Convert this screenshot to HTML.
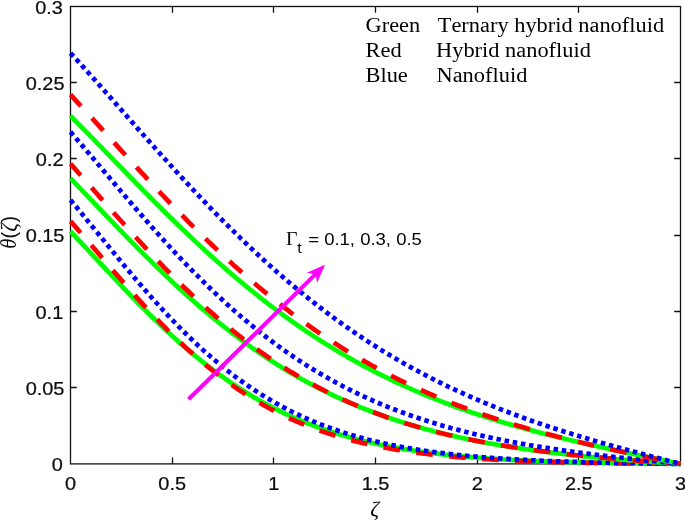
<!DOCTYPE html>
<html><head><meta charset="utf-8"><title>Temperature profile</title><style>html,body{margin:0;padding:0;background:#fff;}svg{display:block;}</style></head><body>
<svg width="685" height="520" viewBox="0 0 685 520">
<rect x="0" y="0" width="685" height="520" fill="#fff"/>
<rect x="70.50" y="6.50" width="610.00" height="457.40" fill="none" stroke="#111" stroke-width="1.3"/>
<path d="M172.50,463.90 v-6.30 M172.50,6.50 v6.30 M273.50,463.90 v-6.30 M273.50,6.50 v6.30 M375.50,463.90 v-6.30 M375.50,6.50 v6.30 M477.50,463.90 v-6.30 M477.50,6.50 v6.30 M578.50,463.90 v-6.30 M578.50,6.50 v6.30 M70.50,387.50 h6.30 M680.50,387.50 h-6.30 M70.50,311.50 h6.30 M680.50,311.50 h-6.30 M70.50,235.50 h6.30 M680.50,235.50 h-6.30 M70.50,158.50 h6.30 M680.50,158.50 h-6.30 M70.50,82.50 h6.30 M680.50,82.50 h-6.30" stroke="#111" stroke-width="1.3" fill="none"/>
<defs><clipPath id="axclip"><rect x="68.50" y="0" width="614.00" height="520"/></clipPath></defs>
<g clip-path="url(#axclip)"><path d="M70.50,231.39 L72.53,233.54 L74.57,235.70 L76.60,237.86 L78.63,240.03 L80.67,242.20 L82.70,244.37 L84.73,246.55 L86.77,248.74 L88.80,250.92 L90.83,253.11 L92.87,255.29 L94.90,257.48 L96.93,259.67 L98.97,261.85 L101.00,264.04 L103.03,266.22 L105.07,268.40 L107.10,270.58 L109.13,272.75 L111.17,274.92 L113.20,277.08 L115.23,279.24 L117.27,281.40 L119.30,283.54 L121.33,285.68 L123.37,287.82 L125.40,289.94 L127.43,292.06 L129.47,294.17 L131.50,296.28 L133.53,298.37 L135.57,300.45 L137.60,302.52 L139.63,304.59 L141.67,306.64 L143.70,308.68 L145.73,310.71 L147.77,312.73 L149.80,314.74 L151.83,316.73 L153.87,318.71 L155.90,320.68 L157.93,322.64 L159.97,324.58 L162.00,326.51 L164.03,328.42 L166.07,330.32 L168.10,332.21 L170.13,334.08 L172.17,335.94 L174.20,337.78 L176.23,339.61 L178.27,341.42 L180.30,343.22 L182.33,345.00 L184.37,346.77 L186.40,348.52 L188.43,350.25 L190.47,351.97 L192.50,353.67 L194.53,355.36 L196.57,357.02 L198.60,358.68 L200.63,360.31 L202.67,361.93 L204.70,363.53 L206.73,365.12 L208.77,366.69 L210.80,368.24 L212.83,369.78 L214.87,371.30 L216.90,372.80 L218.93,374.28 L220.97,375.75 L223.00,377.20 L225.03,378.63 L227.07,380.05 L229.10,381.45 L231.13,382.84 L233.17,384.20 L235.20,385.55 L237.23,386.88 L239.27,388.20 L241.30,389.50 L243.33,390.78 L245.37,392.05 L247.40,393.30 L249.43,394.53 L251.47,395.75 L253.50,396.95 L255.53,398.14 L257.57,399.31 L259.60,400.46 L261.63,401.60 L263.67,402.72 L265.70,403.82 L267.73,404.91 L269.77,405.99 L271.80,407.05 L273.83,408.09 L275.87,409.12 L277.90,410.13 L279.93,411.13 L281.97,412.11 L284.00,413.08 L286.03,414.04 L288.07,414.98 L290.10,415.90 L292.13,416.81 L294.17,417.71 L296.20,418.59 L298.23,419.46 L300.27,420.32 L302.30,421.16 L304.33,421.99 L306.37,422.80 L308.40,423.61 L310.43,424.40 L312.47,425.17 L314.50,425.94 L316.53,426.69 L318.57,427.43 L320.60,428.15 L322.63,428.87 L324.67,429.57 L326.70,430.26 L328.73,430.94 L330.77,431.60 L332.80,432.26 L334.83,432.90 L336.87,433.54 L338.90,434.16 L340.93,434.77 L342.97,435.37 L345.00,435.96 L347.03,436.54 L349.07,437.11 L351.10,437.67 L353.13,438.22 L355.17,438.76 L357.20,439.29 L359.23,439.81 L361.27,440.32 L363.30,440.82 L365.33,441.31 L367.37,441.79 L369.40,442.26 L371.43,442.73 L373.47,443.19 L375.50,443.63 L377.53,444.07 L379.57,444.50 L381.60,444.93 L383.63,445.34 L385.67,445.75 L387.70,446.15 L389.73,446.54 L391.77,446.92 L393.80,447.30 L395.83,447.67 L397.87,448.03 L399.90,448.38 L401.93,448.73 L403.97,449.07 L406.00,449.40 L408.03,449.73 L410.07,450.05 L412.10,450.37 L414.13,450.68 L416.17,450.98 L418.20,451.27 L420.23,451.56 L422.27,451.85 L424.30,452.13 L426.33,452.40 L428.37,452.67 L430.40,452.93 L432.43,453.19 L434.47,453.44 L436.50,453.68 L438.53,453.92 L440.57,454.16 L442.60,454.39 L444.63,454.62 L446.67,454.84 L448.70,455.05 L450.73,455.27 L452.77,455.47 L454.80,455.68 L456.83,455.88 L458.87,456.07 L460.90,456.26 L462.93,456.45 L464.97,456.63 L467.00,456.81 L469.03,456.99 L471.07,457.16 L473.10,457.33 L475.13,457.49 L477.17,457.65 L479.20,457.81 L481.23,457.96 L483.27,458.11 L485.30,458.26 L487.33,458.40 L489.37,458.54 L491.40,458.68 L493.43,458.81 L495.47,458.95 L497.50,459.07 L499.53,459.20 L501.57,459.32 L503.60,459.44 L505.63,459.56 L507.67,459.68 L509.70,459.79 L511.73,459.90 L513.77,460.01 L515.80,460.11 L517.83,460.21 L519.87,460.31 L521.90,460.41 L523.93,460.51 L525.97,460.60 L528.00,460.69 L530.03,460.78 L532.07,460.87 L534.10,460.96 L536.13,461.04 L538.17,461.12 L540.20,461.20 L542.23,461.28 L544.27,461.36 L546.30,461.43 L548.33,461.50 L550.37,461.57 L552.40,461.64 L554.43,461.71 L556.47,461.78 L558.50,461.84 L560.53,461.91 L562.57,461.97 L564.60,462.03 L566.63,462.09 L568.67,462.15 L570.70,462.20 L572.73,462.26 L574.77,462.31 L576.80,462.36 L578.83,462.41 L580.87,462.46 L582.90,462.51 L584.93,462.56 L586.97,462.61 L589.00,462.65 L591.03,462.70 L593.07,462.74 L595.10,462.78 L597.13,462.83 L599.17,462.87 L601.20,462.91 L603.23,462.94 L605.27,462.98 L607.30,463.02 L609.33,463.05 L611.37,463.09 L613.40,463.12 L615.43,463.16 L617.47,463.19 L619.50,463.22 L621.53,463.25 L623.57,463.28 L625.60,463.31 L627.63,463.34 L629.67,463.37 L631.70,463.40 L633.73,463.43 L635.77,463.45 L637.80,463.48 L639.83,463.50 L641.87,463.53 L643.90,463.55 L645.93,463.57 L647.97,463.60 L650.00,463.62 L652.03,463.64 L654.07,463.66 L656.10,463.68 L658.13,463.70 L660.17,463.72 L662.20,463.74 L664.23,463.76 L666.27,463.78 L668.30,463.80 L670.33,463.82 L672.37,463.83 L674.40,463.85 L676.43,463.87 L678.47,463.88 L680.50,463.90" fill="none" stroke="#00ff00" stroke-width="4.70" />
<path d="M70.50,221.18 L72.53,223.49 L74.57,225.81 L76.60,228.14 L78.63,230.47 L80.67,232.82 L82.70,235.17 L84.73,237.53 L86.77,239.89 L88.80,242.25 L90.83,244.62 L92.87,246.99 L94.90,249.37 L96.93,251.74 L98.97,254.12 L101.00,256.49 L103.03,258.86 L105.07,261.23 L107.10,263.60 L109.13,265.97 L111.17,268.33 L113.20,270.68 L115.23,273.03 L117.27,275.38 L119.30,277.72 L121.33,280.05 L123.37,282.37 L125.40,284.68 L127.43,286.99 L129.47,289.29 L131.50,291.57 L133.53,293.85 L135.57,296.12 L137.60,298.37 L139.63,300.61 L141.67,302.85 L143.70,305.06 L145.73,307.27 L147.77,309.46 L149.80,311.64 L151.83,313.80 L153.87,315.95 L155.90,318.08 L157.93,320.20 L159.97,322.30 L162.00,324.39 L164.03,326.46 L166.07,328.52 L168.10,330.55 L170.13,332.57 L172.17,334.58 L174.20,336.56 L176.23,338.53 L178.27,340.48 L180.30,342.41 L182.33,344.33 L184.37,346.22 L186.40,348.10 L188.43,349.96 L190.47,351.80 L192.50,353.62 L194.53,355.42 L196.57,357.20 L198.60,358.96 L200.63,360.71 L202.67,362.43 L204.70,364.14 L206.73,365.82 L208.77,367.49 L210.80,369.13 L212.83,370.76 L214.87,372.37 L216.90,373.96 L218.93,375.52 L220.97,377.07 L223.00,378.60 L225.03,380.11 L227.07,381.60 L229.10,383.07 L231.13,384.52 L233.17,385.95 L235.20,387.37 L237.23,388.76 L239.27,390.13 L241.30,391.49 L243.33,392.82 L245.37,394.14 L247.40,395.44 L249.43,396.72 L251.47,397.98 L253.50,399.22 L255.53,400.45 L257.57,401.65 L259.60,402.84 L261.63,404.01 L263.67,405.16 L265.70,406.30 L267.73,407.42 L269.77,408.52 L271.80,409.60 L273.83,410.66 L275.87,411.71 L277.90,412.74 L279.93,413.76 L281.97,414.76 L284.00,415.74 L286.03,416.70 L288.07,417.65 L290.10,418.59 L292.13,419.50 L294.17,420.41 L296.20,421.29 L298.23,422.17 L300.27,423.02 L302.30,423.87 L304.33,424.69 L306.37,425.51 L308.40,426.31 L310.43,427.09 L312.47,427.86 L314.50,428.62 L316.53,429.36 L318.57,430.09 L320.60,430.81 L322.63,431.51 L324.67,432.20 L326.70,432.88 L328.73,433.55 L330.77,434.20 L332.80,434.84 L334.83,435.47 L336.87,436.09 L338.90,436.69 L340.93,437.28 L342.97,437.87 L345.00,438.44 L347.03,439.00 L349.07,439.55 L351.10,440.09 L353.13,440.61 L355.17,441.13 L357.20,441.64 L359.23,442.14 L361.27,442.63 L363.30,443.10 L365.33,443.57 L367.37,444.03 L369.40,444.48 L371.43,444.92 L373.47,445.35 L375.50,445.78 L377.53,446.19 L379.57,446.60 L381.60,446.99 L383.63,447.38 L385.67,447.77 L387.70,448.14 L389.73,448.51 L391.77,448.86 L393.80,449.21 L395.83,449.56 L397.87,449.89 L399.90,450.22 L401.93,450.54 L403.97,450.86 L406.00,451.17 L408.03,451.47 L410.07,451.77 L412.10,452.05 L414.13,452.34 L416.17,452.61 L418.20,452.88 L420.23,453.15 L422.27,453.41 L424.30,453.66 L426.33,453.91 L428.37,454.15 L430.40,454.39 L432.43,454.62 L434.47,454.85 L436.50,455.07 L438.53,455.29 L440.57,455.50 L442.60,455.71 L444.63,455.91 L446.67,456.11 L448.70,456.30 L450.73,456.49 L452.77,456.68 L454.80,456.86 L456.83,457.04 L458.87,457.21 L460.90,457.38 L462.93,457.54 L464.97,457.70 L467.00,457.86 L469.03,458.02 L471.07,458.17 L473.10,458.31 L475.13,458.46 L477.17,458.60 L479.20,458.74 L481.23,458.87 L483.27,459.00 L485.30,459.13 L487.33,459.25 L489.37,459.38 L491.40,459.50 L493.43,459.61 L495.47,459.73 L497.50,459.84 L499.53,459.95 L501.57,460.05 L503.60,460.15 L505.63,460.26 L507.67,460.35 L509.70,460.45 L511.73,460.55 L513.77,460.64 L515.80,460.73 L517.83,460.82 L519.87,460.90 L521.90,460.98 L523.93,461.07 L525.97,461.15 L528.00,461.22 L530.03,461.30 L532.07,461.37 L534.10,461.45 L536.13,461.52 L538.17,461.59 L540.20,461.65 L542.23,461.72 L544.27,461.78 L546.30,461.85 L548.33,461.91 L550.37,461.97 L552.40,462.02 L554.43,462.08 L556.47,462.14 L558.50,462.19 L560.53,462.24 L562.57,462.30 L564.60,462.35 L566.63,462.40 L568.67,462.44 L570.70,462.49 L572.73,462.54 L574.77,462.58 L576.80,462.62 L578.83,462.67 L580.87,462.71 L582.90,462.75 L584.93,462.79 L586.97,462.83 L589.00,462.87 L591.03,462.90 L593.07,462.94 L595.10,462.97 L597.13,463.01 L599.17,463.04 L601.20,463.07 L603.23,463.11 L605.27,463.14 L607.30,463.17 L609.33,463.20 L611.37,463.23 L613.40,463.25 L615.43,463.28 L617.47,463.31 L619.50,463.34 L621.53,463.36 L623.57,463.39 L625.60,463.41 L627.63,463.43 L629.67,463.46 L631.70,463.48 L633.73,463.50 L635.77,463.53 L637.80,463.55 L639.83,463.57 L641.87,463.59 L643.90,463.61 L645.93,463.63 L647.97,463.65 L650.00,463.66 L652.03,463.68 L654.07,463.70 L656.10,463.72 L658.13,463.74 L660.17,463.75 L662.20,463.77 L664.23,463.78 L666.27,463.80 L668.30,463.81 L670.33,463.83 L672.37,463.84 L674.40,463.86 L676.43,463.87 L678.47,463.89 L680.50,463.90" fill="none" stroke="#ff0000" stroke-width="4.70" stroke-dasharray="16.7 16.4" stroke-dashoffset="1.3"/>
<path d="M70.50,199.98 L72.53,202.41 L74.57,204.85 L76.60,207.30 L78.63,209.75 L80.67,212.22 L82.70,214.69 L84.73,217.17 L86.77,219.66 L88.80,222.15 L90.83,224.64 L92.87,227.14 L94.90,229.64 L96.93,232.14 L98.97,234.64 L101.00,237.14 L103.03,239.64 L105.07,242.14 L107.10,244.64 L109.13,247.13 L111.17,249.62 L113.20,252.11 L115.23,254.59 L117.27,257.06 L119.30,259.53 L121.33,261.99 L123.37,264.45 L125.40,266.89 L127.43,269.33 L129.47,271.76 L131.50,274.18 L133.53,276.59 L135.57,278.99 L137.60,281.37 L139.63,283.75 L141.67,286.11 L143.70,288.46 L145.73,290.80 L147.77,293.12 L149.80,295.43 L151.83,297.73 L153.87,300.01 L155.90,302.28 L157.93,304.53 L159.97,306.76 L162.00,308.98 L164.03,311.19 L166.07,313.37 L168.10,315.54 L170.13,317.70 L172.17,319.83 L174.20,321.95 L176.23,324.05 L178.27,326.13 L180.30,328.19 L182.33,330.24 L184.37,332.26 L186.40,334.27 L188.43,336.26 L190.47,338.23 L192.50,340.18 L194.53,342.11 L196.57,344.02 L198.60,345.91 L200.63,347.78 L202.67,349.63 L204.70,351.46 L206.73,353.28 L208.77,355.07 L210.80,356.84 L212.83,358.59 L214.87,360.32 L216.90,362.04 L218.93,363.73 L220.97,365.40 L223.00,367.05 L225.03,368.68 L227.07,370.29 L229.10,371.89 L231.13,373.46 L233.17,375.01 L235.20,376.54 L237.23,378.05 L239.27,379.55 L241.30,381.02 L243.33,382.47 L245.37,383.90 L247.40,385.32 L249.43,386.71 L251.47,388.09 L253.50,389.45 L255.53,390.78 L257.57,392.10 L259.60,393.40 L261.63,394.68 L263.67,395.94 L265.70,397.19 L267.73,398.41 L269.77,399.62 L271.80,400.81 L273.83,401.98 L275.87,403.14 L277.90,404.27 L279.93,405.39 L281.97,406.50 L284.00,407.58 L286.03,408.65 L288.07,409.70 L290.10,410.73 L292.13,411.75 L294.17,412.75 L296.20,413.74 L298.23,414.71 L300.27,415.66 L302.30,416.60 L304.33,417.52 L306.37,418.43 L308.40,419.32 L310.43,420.20 L312.47,421.06 L314.50,421.91 L316.53,422.74 L318.57,423.56 L320.60,424.37 L322.63,425.16 L324.67,425.93 L326.70,426.70 L328.73,427.45 L330.77,428.19 L332.80,428.91 L334.83,429.62 L336.87,430.32 L338.90,431.01 L340.93,431.68 L342.97,432.34 L345.00,432.99 L347.03,433.63 L349.07,434.26 L351.10,434.87 L353.13,435.48 L355.17,436.07 L357.20,436.65 L359.23,437.22 L361.27,437.78 L363.30,438.33 L365.33,438.87 L367.37,439.40 L369.40,439.92 L371.43,440.43 L373.47,440.93 L375.50,441.42 L377.53,441.90 L379.57,442.37 L381.60,442.83 L383.63,443.28 L385.67,443.73 L387.70,444.17 L389.73,444.59 L391.77,445.01 L393.80,445.42 L395.83,445.83 L397.87,446.22 L399.90,446.61 L401.93,446.99 L403.97,447.36 L406.00,447.72 L408.03,448.08 L410.07,448.43 L412.10,448.77 L414.13,449.11 L416.17,449.44 L418.20,449.76 L420.23,450.08 L422.27,450.39 L424.30,450.69 L426.33,450.99 L428.37,451.28 L430.40,451.56 L432.43,451.84 L434.47,452.12 L436.50,452.38 L438.53,452.65 L440.57,452.90 L442.60,453.16 L444.63,453.40 L446.67,453.64 L448.70,453.88 L450.73,454.11 L452.77,454.34 L454.80,454.56 L456.83,454.78 L458.87,454.99 L460.90,455.20 L462.93,455.40 L464.97,455.60 L467.00,455.80 L469.03,455.99 L471.07,456.17 L473.10,456.36 L475.13,456.54 L477.17,456.71 L479.20,456.88 L481.23,457.05 L483.27,457.22 L485.30,457.38 L487.33,457.54 L489.37,457.69 L491.40,457.84 L493.43,457.99 L495.47,458.13 L497.50,458.28 L499.53,458.41 L501.57,458.55 L503.60,458.68 L505.63,458.81 L507.67,458.94 L509.70,459.06 L511.73,459.19 L513.77,459.30 L515.80,459.42 L517.83,459.54 L519.87,459.65 L521.90,459.76 L523.93,459.86 L525.97,459.97 L528.00,460.07 L530.03,460.17 L532.07,460.27 L534.10,460.36 L536.13,460.46 L538.17,460.55 L540.20,460.64 L542.23,460.73 L544.27,460.81 L546.30,460.90 L548.33,460.98 L550.37,461.06 L552.40,461.14 L554.43,461.22 L556.47,461.29 L558.50,461.37 L560.53,461.44 L562.57,461.51 L564.60,461.58 L566.63,461.65 L568.67,461.71 L570.70,461.78 L572.73,461.84 L574.77,461.90 L576.80,461.96 L578.83,462.02 L580.87,462.08 L582.90,462.14 L584.93,462.20 L586.97,462.25 L589.00,462.31 L591.03,462.36 L593.07,462.41 L595.10,462.46 L597.13,462.51 L599.17,462.56 L601.20,462.61 L603.23,462.65 L605.27,462.70 L607.30,462.74 L609.33,462.79 L611.37,462.83 L613.40,462.87 L615.43,462.91 L617.47,462.95 L619.50,462.99 L621.53,463.03 L623.57,463.07 L625.60,463.11 L627.63,463.14 L629.67,463.18 L631.70,463.22 L633.73,463.25 L635.77,463.28 L637.80,463.32 L639.83,463.35 L641.87,463.38 L643.90,463.41 L645.93,463.44 L647.97,463.48 L650.00,463.51 L652.03,463.53 L654.07,463.56 L656.10,463.59 L658.13,463.62 L660.17,463.65 L662.20,463.67 L664.23,463.70 L666.27,463.73 L668.30,463.75 L670.33,463.78 L672.37,463.80 L674.40,463.83 L676.43,463.85 L678.47,463.88 L680.50,463.90" fill="none" stroke="#0000ff" stroke-width="4.70" stroke-dasharray="4.5 3.78"/>
<path d="M70.50,178.33 L72.53,180.44 L74.57,182.55 L76.60,184.67 L78.63,186.79 L80.67,188.92 L82.70,191.04 L84.73,193.17 L86.77,195.30 L88.80,197.43 L90.83,199.56 L92.87,201.70 L94.90,203.83 L96.93,205.96 L98.97,208.09 L101.00,210.22 L103.03,212.35 L105.07,214.48 L107.10,216.60 L109.13,218.72 L111.17,220.84 L113.20,222.96 L115.23,225.07 L117.27,227.18 L119.30,229.29 L121.33,231.39 L123.37,233.48 L125.40,235.57 L127.43,237.66 L129.47,239.74 L131.50,241.81 L133.53,243.88 L135.57,245.95 L137.60,248.00 L139.63,250.05 L141.67,252.09 L143.70,254.13 L145.73,256.15 L147.77,258.17 L149.80,260.18 L151.83,262.19 L153.87,264.18 L155.90,266.17 L157.93,268.15 L159.97,270.12 L162.00,272.08 L164.03,274.03 L166.07,275.97 L168.10,277.90 L170.13,279.82 L172.17,281.73 L174.20,283.63 L176.23,285.52 L178.27,287.40 L180.30,289.27 L182.33,291.13 L184.37,292.98 L186.40,294.82 L188.43,296.64 L190.47,298.46 L192.50,300.26 L194.53,302.05 L196.57,303.84 L198.60,305.60 L200.63,307.36 L202.67,309.11 L204.70,310.84 L206.73,312.56 L208.77,314.27 L210.80,315.97 L212.83,317.66 L214.87,319.33 L216.90,320.99 L218.93,322.64 L220.97,324.28 L223.00,325.90 L225.03,327.51 L227.07,329.11 L229.10,330.70 L231.13,332.27 L233.17,333.83 L235.20,335.38 L237.23,336.92 L239.27,338.44 L241.30,339.95 L243.33,341.45 L245.37,342.93 L247.40,344.41 L249.43,345.87 L251.47,347.31 L253.50,348.75 L255.53,350.17 L257.57,351.58 L259.60,352.98 L261.63,354.36 L263.67,355.73 L265.70,357.09 L267.73,358.44 L269.77,359.77 L271.80,361.09 L273.83,362.40 L275.87,363.69 L277.90,364.98 L279.93,366.25 L281.97,367.51 L284.00,368.75 L286.03,369.99 L288.07,371.21 L290.10,372.42 L292.13,373.62 L294.17,374.80 L296.20,375.98 L298.23,377.14 L300.27,378.29 L302.30,379.43 L304.33,380.55 L306.37,381.67 L308.40,382.77 L310.43,383.86 L312.47,384.94 L314.50,386.01 L316.53,387.07 L318.57,388.11 L320.60,389.15 L322.63,390.17 L324.67,391.18 L326.70,392.18 L328.73,393.17 L330.77,394.15 L332.80,395.12 L334.83,396.07 L336.87,397.02 L338.90,397.96 L340.93,398.88 L342.97,399.80 L345.00,400.70 L347.03,401.59 L349.07,402.48 L351.10,403.35 L353.13,404.21 L355.17,405.07 L357.20,405.91 L359.23,406.74 L361.27,407.57 L363.30,408.38 L365.33,409.19 L367.37,409.98 L369.40,410.77 L371.43,411.54 L373.47,412.31 L375.50,413.07 L377.53,413.82 L379.57,414.56 L381.60,415.29 L383.63,416.01 L385.67,416.72 L387.70,417.43 L389.73,418.12 L391.77,418.81 L393.80,419.49 L395.83,420.16 L397.87,420.82 L399.90,421.47 L401.93,422.12 L403.97,422.76 L406.00,423.39 L408.03,424.01 L410.07,424.62 L412.10,425.23 L414.13,425.83 L416.17,426.42 L418.20,427.00 L420.23,427.58 L422.27,428.15 L424.30,428.71 L426.33,429.27 L428.37,429.81 L430.40,430.35 L432.43,430.89 L434.47,431.42 L436.50,431.94 L438.53,432.45 L440.57,432.96 L442.60,433.46 L444.63,433.95 L446.67,434.44 L448.70,434.92 L450.73,435.40 L452.77,435.86 L454.80,436.33 L456.83,436.78 L458.87,437.24 L460.90,437.68 L462.93,438.12 L464.97,438.55 L467.00,438.98 L469.03,439.40 L471.07,439.82 L473.10,440.23 L475.13,440.64 L477.17,441.04 L479.20,441.44 L481.23,441.83 L483.27,442.21 L485.30,442.59 L487.33,442.97 L489.37,443.34 L491.40,443.70 L493.43,444.06 L495.47,444.42 L497.50,444.77 L499.53,445.12 L501.57,445.46 L503.60,445.80 L505.63,446.13 L507.67,446.46 L509.70,446.79 L511.73,447.11 L513.77,447.43 L515.80,447.74 L517.83,448.05 L519.87,448.35 L521.90,448.65 L523.93,448.95 L525.97,449.24 L528.00,449.53 L530.03,449.82 L532.07,450.10 L534.10,450.38 L536.13,450.65 L538.17,450.92 L540.20,451.19 L542.23,451.46 L544.27,451.72 L546.30,451.97 L548.33,452.23 L550.37,452.48 L552.40,452.73 L554.43,452.97 L556.47,453.22 L558.50,453.45 L560.53,453.69 L562.57,453.92 L564.60,454.15 L566.63,454.38 L568.67,454.61 L570.70,454.83 L572.73,455.05 L574.77,455.27 L576.80,455.48 L578.83,455.69 L580.87,455.90 L582.90,456.11 L584.93,456.31 L586.97,456.51 L589.00,456.71 L591.03,456.91 L593.07,457.11 L595.10,457.30 L597.13,457.49 L599.17,457.68 L601.20,457.87 L603.23,458.05 L605.27,458.23 L607.30,458.41 L609.33,458.59 L611.37,458.77 L613.40,458.94 L615.43,459.12 L617.47,459.29 L619.50,459.46 L621.53,459.63 L623.57,459.79 L625.60,459.96 L627.63,460.12 L629.67,460.28 L631.70,460.44 L633.73,460.60 L635.77,460.76 L637.80,460.91 L639.83,461.07 L641.87,461.22 L643.90,461.37 L645.93,461.52 L647.97,461.67 L650.00,461.82 L652.03,461.96 L654.07,462.11 L656.10,462.25 L658.13,462.39 L660.17,462.54 L662.20,462.68 L664.23,462.82 L666.27,462.95 L668.30,463.09 L670.33,463.23 L672.37,463.36 L674.40,463.50 L676.43,463.63 L678.47,463.77 L680.50,463.90" fill="none" stroke="#00ff00" stroke-width="4.70" />
<path d="M70.50,163.83 L72.53,166.12 L74.57,168.41 L76.60,170.70 L78.63,173.00 L80.67,175.30 L82.70,177.60 L84.73,179.91 L86.77,182.22 L88.80,184.53 L90.83,186.84 L92.87,189.15 L94.90,191.46 L96.93,193.76 L98.97,196.07 L101.00,198.38 L103.03,200.69 L105.07,202.99 L107.10,205.29 L109.13,207.59 L111.17,209.88 L113.20,212.17 L115.23,214.46 L117.27,216.74 L119.30,219.02 L121.33,221.29 L123.37,223.55 L125.40,225.81 L127.43,228.07 L129.47,230.32 L131.50,232.56 L133.53,234.79 L135.57,237.02 L137.60,239.23 L139.63,241.45 L141.67,243.65 L143.70,245.84 L145.73,248.03 L147.77,250.20 L149.80,252.37 L151.83,254.53 L153.87,256.67 L155.90,258.81 L157.93,260.94 L159.97,263.05 L162.00,265.16 L164.03,267.26 L166.07,269.34 L168.10,271.41 L170.13,273.47 L172.17,275.52 L174.20,277.56 L176.23,279.59 L178.27,281.60 L180.30,283.60 L182.33,285.59 L184.37,287.57 L186.40,289.53 L188.43,291.48 L190.47,293.42 L192.50,295.35 L194.53,297.26 L196.57,299.16 L198.60,301.04 L200.63,302.91 L202.67,304.77 L204.70,306.62 L206.73,308.45 L208.77,310.27 L210.80,312.07 L212.83,313.86 L214.87,315.63 L216.90,317.40 L218.93,319.14 L220.97,320.88 L223.00,322.60 L225.03,324.30 L227.07,325.99 L229.10,327.67 L231.13,329.33 L233.17,330.98 L235.20,332.61 L237.23,334.23 L239.27,335.84 L241.30,337.43 L243.33,339.01 L245.37,340.57 L247.40,342.12 L249.43,343.65 L251.47,345.17 L253.50,346.68 L255.53,348.17 L257.57,349.65 L259.60,351.11 L261.63,352.56 L263.67,353.99 L265.70,355.41 L267.73,356.82 L269.77,358.21 L271.80,359.59 L273.83,360.96 L275.87,362.31 L277.90,363.64 L279.93,364.97 L281.97,366.28 L284.00,367.57 L286.03,368.85 L288.07,370.12 L290.10,371.38 L292.13,372.62 L294.17,373.85 L296.20,375.07 L298.23,376.27 L300.27,377.46 L302.30,378.63 L304.33,379.80 L306.37,380.95 L308.40,382.09 L310.43,383.21 L312.47,384.32 L314.50,385.42 L316.53,386.51 L318.57,387.59 L320.60,388.65 L322.63,389.70 L324.67,390.74 L326.70,391.76 L328.73,392.78 L330.77,393.78 L332.80,394.77 L334.83,395.75 L336.87,396.72 L338.90,397.67 L340.93,398.62 L342.97,399.55 L345.00,400.48 L347.03,401.39 L349.07,402.29 L351.10,403.18 L353.13,404.05 L355.17,404.92 L357.20,405.78 L359.23,406.63 L361.27,407.46 L363.30,408.29 L365.33,409.10 L367.37,409.91 L369.40,410.70 L371.43,411.49 L373.47,412.27 L375.50,413.03 L377.53,413.79 L379.57,414.53 L381.60,415.27 L383.63,416.00 L385.67,416.72 L387.70,417.43 L389.73,418.13 L391.77,418.82 L393.80,419.50 L395.83,420.18 L397.87,420.84 L399.90,421.50 L401.93,422.15 L403.97,422.79 L406.00,423.42 L408.03,424.04 L410.07,424.65 L412.10,425.26 L414.13,425.86 L416.17,426.45 L418.20,427.04 L420.23,427.61 L422.27,428.18 L424.30,428.74 L426.33,429.29 L428.37,429.84 L430.40,430.38 L432.43,430.91 L434.47,431.44 L436.50,431.95 L438.53,432.46 L440.57,432.97 L442.60,433.47 L444.63,433.96 L446.67,434.44 L448.70,434.92 L450.73,435.39 L452.77,435.86 L454.80,436.31 L456.83,436.77 L458.87,437.21 L460.90,437.65 L462.93,438.09 L464.97,438.52 L467.00,438.94 L469.03,439.36 L471.07,439.77 L473.10,440.18 L475.13,440.58 L477.17,440.98 L479.20,441.37 L481.23,441.75 L483.27,442.13 L485.30,442.51 L487.33,442.88 L489.37,443.25 L491.40,443.61 L493.43,443.96 L495.47,444.31 L497.50,444.66 L499.53,445.00 L501.57,445.34 L503.60,445.67 L505.63,446.00 L507.67,446.33 L509.70,446.65 L511.73,446.96 L513.77,447.28 L515.80,447.58 L517.83,447.89 L519.87,448.19 L521.90,448.49 L523.93,448.78 L525.97,449.07 L528.00,449.35 L530.03,449.63 L532.07,449.91 L534.10,450.19 L536.13,450.46 L538.17,450.72 L540.20,450.99 L542.23,451.25 L544.27,451.51 L546.30,451.76 L548.33,452.01 L550.37,452.26 L552.40,452.51 L554.43,452.75 L556.47,452.99 L558.50,453.23 L560.53,453.46 L562.57,453.69 L564.60,453.92 L566.63,454.14 L568.67,454.37 L570.70,454.59 L572.73,454.81 L574.77,455.02 L576.80,455.24 L578.83,455.45 L580.87,455.65 L582.90,455.86 L584.93,456.06 L586.97,456.27 L589.00,456.47 L591.03,456.66 L593.07,456.86 L595.10,457.05 L597.13,457.24 L599.17,457.43 L601.20,457.62 L603.23,457.81 L605.27,457.99 L607.30,458.17 L609.33,458.35 L611.37,458.53 L613.40,458.71 L615.43,458.89 L617.47,459.06 L619.50,459.23 L621.53,459.41 L623.57,459.57 L625.60,459.74 L627.63,459.91 L629.67,460.08 L631.70,460.24 L633.73,460.40 L635.77,460.57 L637.80,460.73 L639.83,460.89 L641.87,461.04 L643.90,461.20 L645.93,461.36 L647.97,461.51 L650.00,461.67 L652.03,461.82 L654.07,461.98 L656.10,462.13 L658.13,462.28 L660.17,462.43 L662.20,462.58 L664.23,462.73 L666.27,462.88 L668.30,463.02 L670.33,463.17 L672.37,463.32 L674.40,463.46 L676.43,463.61 L678.47,463.76 L680.50,463.90" fill="none" stroke="#ff0000" stroke-width="4.70" stroke-dasharray="16.7 16.4" stroke-dashoffset="1.3"/>
<path d="M70.50,131.91 L72.53,134.26 L74.57,136.62 L76.60,138.98 L78.63,141.36 L80.67,143.73 L82.70,146.12 L84.73,148.50 L86.77,150.90 L88.80,153.29 L90.83,155.69 L92.87,158.09 L94.90,160.49 L96.93,162.90 L98.97,165.31 L101.00,167.71 L103.03,170.12 L105.07,172.53 L107.10,174.93 L109.13,177.34 L111.17,179.75 L113.20,182.15 L115.23,184.55 L117.27,186.95 L119.30,189.34 L121.33,191.73 L123.37,194.12 L125.40,196.50 L127.43,198.88 L129.47,201.26 L131.50,203.63 L133.53,205.99 L135.57,208.35 L137.60,210.70 L139.63,213.04 L141.67,215.38 L143.70,217.71 L145.73,220.03 L147.77,222.35 L149.80,224.66 L151.83,226.96 L153.87,229.25 L155.90,231.53 L157.93,233.80 L159.97,236.06 L162.00,238.31 L164.03,240.56 L166.07,242.79 L168.10,245.01 L170.13,247.22 L172.17,249.42 L174.20,251.61 L176.23,253.79 L178.27,255.96 L180.30,258.12 L182.33,260.26 L184.37,262.39 L186.40,264.51 L188.43,266.62 L190.47,268.72 L192.50,270.80 L194.53,272.87 L196.57,274.92 L198.60,276.97 L200.63,279.00 L202.67,281.02 L204.70,283.02 L206.73,285.01 L208.77,286.99 L210.80,288.96 L212.83,290.91 L214.87,292.84 L216.90,294.76 L218.93,296.67 L220.97,298.57 L223.00,300.45 L225.03,302.31 L227.07,304.17 L229.10,306.00 L231.13,307.83 L233.17,309.64 L235.20,311.43 L237.23,313.21 L239.27,314.98 L241.30,316.73 L243.33,318.47 L245.37,320.19 L247.40,321.90 L249.43,323.59 L251.47,325.27 L253.50,326.93 L255.53,328.58 L257.57,330.22 L259.60,331.84 L261.63,333.44 L263.67,335.03 L265.70,336.61 L267.73,338.17 L269.77,339.72 L271.80,341.25 L273.83,342.77 L275.87,344.28 L277.90,345.77 L279.93,347.25 L281.97,348.71 L284.00,350.16 L286.03,351.59 L288.07,353.01 L290.10,354.42 L292.13,355.81 L294.17,357.19 L296.20,358.55 L298.23,359.90 L300.27,361.24 L302.30,362.56 L304.33,363.87 L306.37,365.16 L308.40,366.45 L310.43,367.71 L312.47,368.97 L314.50,370.21 L316.53,371.44 L318.57,372.66 L320.60,373.86 L322.63,375.05 L324.67,376.23 L326.70,377.39 L328.73,378.54 L330.77,379.68 L332.80,380.81 L334.83,381.92 L336.87,383.02 L338.90,384.11 L340.93,385.19 L342.97,386.26 L345.00,387.31 L347.03,388.35 L349.07,389.38 L351.10,390.40 L353.13,391.40 L355.17,392.40 L357.20,393.38 L359.23,394.35 L361.27,395.31 L363.30,396.26 L365.33,397.20 L367.37,398.13 L369.40,399.05 L371.43,399.95 L373.47,400.85 L375.50,401.73 L377.53,402.61 L379.57,403.47 L381.60,404.33 L383.63,405.17 L385.67,406.00 L387.70,406.83 L389.73,407.64 L391.77,408.44 L393.80,409.24 L395.83,410.02 L397.87,410.80 L399.90,411.56 L401.93,412.32 L403.97,413.07 L406.00,413.80 L408.03,414.53 L410.07,415.25 L412.10,415.96 L414.13,416.67 L416.17,417.36 L418.20,418.05 L420.23,418.72 L422.27,419.39 L424.30,420.05 L426.33,420.71 L428.37,421.35 L430.40,421.99 L432.43,422.61 L434.47,423.24 L436.50,423.85 L438.53,424.45 L440.57,425.05 L442.60,425.64 L444.63,426.23 L446.67,426.80 L448.70,427.37 L450.73,427.93 L452.77,428.49 L454.80,429.04 L456.83,429.58 L458.87,430.11 L460.90,430.64 L462.93,431.16 L464.97,431.68 L467.00,432.18 L469.03,432.69 L471.07,433.18 L473.10,433.67 L475.13,434.16 L477.17,434.63 L479.20,435.11 L481.23,435.57 L483.27,436.03 L485.30,436.49 L487.33,436.94 L489.37,437.38 L491.40,437.82 L493.43,438.25 L495.47,438.68 L497.50,439.10 L499.53,439.52 L501.57,439.93 L503.60,440.34 L505.63,440.74 L507.67,441.14 L509.70,441.53 L511.73,441.92 L513.77,442.30 L515.80,442.68 L517.83,443.06 L519.87,443.43 L521.90,443.79 L523.93,444.16 L525.97,444.51 L528.00,444.87 L530.03,445.22 L532.07,445.56 L534.10,445.90 L536.13,446.24 L538.17,446.58 L540.20,446.91 L542.23,447.23 L544.27,447.55 L546.30,447.87 L548.33,448.19 L550.37,448.50 L552.40,448.81 L554.43,449.12 L556.47,449.42 L558.50,449.72 L560.53,450.01 L562.57,450.31 L564.60,450.60 L566.63,450.88 L568.67,451.17 L570.70,451.45 L572.73,451.73 L574.77,452.00 L576.80,452.28 L578.83,452.55 L580.87,452.82 L582.90,453.08 L584.93,453.35 L586.97,453.61 L589.00,453.86 L591.03,454.12 L593.07,454.37 L595.10,454.63 L597.13,454.88 L599.17,455.12 L601.20,455.37 L603.23,455.61 L605.27,455.85 L607.30,456.09 L609.33,456.33 L611.37,456.57 L613.40,456.80 L615.43,457.03 L617.47,457.26 L619.50,457.49 L621.53,457.72 L623.57,457.95 L625.60,458.17 L627.63,458.40 L629.67,458.62 L631.70,458.84 L633.73,459.06 L635.77,459.28 L637.80,459.50 L639.83,459.71 L641.87,459.93 L643.90,460.14 L645.93,460.36 L647.97,460.57 L650.00,460.78 L652.03,460.99 L654.07,461.20 L656.10,461.41 L658.13,461.62 L660.17,461.83 L662.20,462.04 L664.23,462.25 L666.27,462.46 L668.30,462.66 L670.33,462.87 L672.37,463.08 L674.40,463.28 L676.43,463.49 L678.47,463.69 L680.50,463.90" fill="none" stroke="#0000ff" stroke-width="4.70" stroke-dasharray="4.5 3.78"/>
<path d="M70.50,115.92 L72.53,117.96 L74.57,120.00 L76.60,122.05 L78.63,124.11 L80.67,126.17 L82.70,128.23 L84.73,130.30 L86.77,132.38 L88.80,134.45 L90.83,136.53 L92.87,138.62 L94.90,140.70 L96.93,142.79 L98.97,144.88 L101.00,146.97 L103.03,149.07 L105.07,151.16 L107.10,153.26 L109.13,155.36 L111.17,157.45 L113.20,159.55 L115.23,161.65 L117.27,163.74 L119.30,165.84 L121.33,167.93 L123.37,170.03 L125.40,172.12 L127.43,174.21 L129.47,176.30 L131.50,178.38 L133.53,180.46 L135.57,182.54 L137.60,184.62 L139.63,186.69 L141.67,188.76 L143.70,190.83 L145.73,192.89 L147.77,194.95 L149.80,197.01 L151.83,199.05 L153.87,201.10 L155.90,203.14 L157.93,205.17 L159.97,207.20 L162.00,209.23 L164.03,211.24 L166.07,213.26 L168.10,215.26 L170.13,217.26 L172.17,219.26 L174.20,221.24 L176.23,223.22 L178.27,225.20 L180.30,227.16 L182.33,229.12 L184.37,231.07 L186.40,233.02 L188.43,234.95 L190.47,236.88 L192.50,238.80 L194.53,240.72 L196.57,242.62 L198.60,244.52 L200.63,246.40 L202.67,248.28 L204.70,250.16 L206.73,252.02 L208.77,253.87 L210.80,255.72 L212.83,257.55 L214.87,259.38 L216.90,261.20 L218.93,263.01 L220.97,264.81 L223.00,266.60 L225.03,268.38 L227.07,270.15 L229.10,271.91 L231.13,273.66 L233.17,275.40 L235.20,277.14 L237.23,278.86 L239.27,280.57 L241.30,282.27 L243.33,283.97 L245.37,285.65 L247.40,287.32 L249.43,288.98 L251.47,290.64 L253.50,292.28 L255.53,293.91 L257.57,295.53 L259.60,297.14 L261.63,298.74 L263.67,300.34 L265.70,301.92 L267.73,303.49 L269.77,305.05 L271.80,306.59 L273.83,308.13 L275.87,309.66 L277.90,311.18 L279.93,312.69 L281.97,314.19 L284.00,315.67 L286.03,317.15 L288.07,318.61 L290.10,320.07 L292.13,321.52 L294.17,322.95 L296.20,324.38 L298.23,325.79 L300.27,327.19 L302.30,328.59 L304.33,329.97 L306.37,331.34 L308.40,332.71 L310.43,334.06 L312.47,335.40 L314.50,336.73 L316.53,338.05 L318.57,339.36 L320.60,340.67 L322.63,341.96 L324.67,343.24 L326.70,344.51 L328.73,345.77 L330.77,347.02 L332.80,348.26 L334.83,349.49 L336.87,350.72 L338.90,351.93 L340.93,353.13 L342.97,354.32 L345.00,355.50 L347.03,356.68 L349.07,357.84 L351.10,358.99 L353.13,360.14 L355.17,361.27 L357.20,362.40 L359.23,363.52 L361.27,364.62 L363.30,365.72 L365.33,366.81 L367.37,367.89 L369.40,368.96 L371.43,370.02 L373.47,371.07 L375.50,372.11 L377.53,373.15 L379.57,374.17 L381.60,375.19 L383.63,376.20 L385.67,377.20 L387.70,378.19 L389.73,379.17 L391.77,380.15 L393.80,381.11 L395.83,382.07 L397.87,383.02 L399.90,383.96 L401.93,384.89 L403.97,385.81 L406.00,386.73 L408.03,387.64 L410.07,388.54 L412.10,389.43 L414.13,390.32 L416.17,391.19 L418.20,392.06 L420.23,392.93 L422.27,393.78 L424.30,394.63 L426.33,395.47 L428.37,396.30 L430.40,397.12 L432.43,397.94 L434.47,398.75 L436.50,399.55 L438.53,400.35 L440.57,401.14 L442.60,401.92 L444.63,402.70 L446.67,403.47 L448.70,404.23 L450.73,404.99 L452.77,405.74 L454.80,406.48 L456.83,407.21 L458.87,407.94 L460.90,408.67 L462.93,409.39 L464.97,410.10 L467.00,410.80 L469.03,411.50 L471.07,412.19 L473.10,412.88 L475.13,413.56 L477.17,414.24 L479.20,414.91 L481.23,415.57 L483.27,416.23 L485.30,416.88 L487.33,417.53 L489.37,418.17 L491.40,418.81 L493.43,419.44 L495.47,420.07 L497.50,420.69 L499.53,421.31 L501.57,421.92 L503.60,422.53 L505.63,423.13 L507.67,423.73 L509.70,424.32 L511.73,424.91 L513.77,425.49 L515.80,426.07 L517.83,426.64 L519.87,427.21 L521.90,427.78 L523.93,428.34 L525.97,428.90 L528.00,429.45 L530.03,430.00 L532.07,430.54 L534.10,431.08 L536.13,431.62 L538.17,432.15 L540.20,432.68 L542.23,433.21 L544.27,433.73 L546.30,434.25 L548.33,434.76 L550.37,435.28 L552.40,435.78 L554.43,436.29 L556.47,436.79 L558.50,437.29 L560.53,437.79 L562.57,438.28 L564.60,438.77 L566.63,439.25 L568.67,439.74 L570.70,440.22 L572.73,440.70 L574.77,441.17 L576.80,441.65 L578.83,442.12 L580.87,442.58 L582.90,443.05 L584.93,443.51 L586.97,443.97 L589.00,444.43 L591.03,444.89 L593.07,445.34 L595.10,445.80 L597.13,446.25 L599.17,446.69 L601.20,447.14 L603.23,447.59 L605.27,448.03 L607.30,448.47 L609.33,448.91 L611.37,449.35 L613.40,449.79 L615.43,450.22 L617.47,450.66 L619.50,451.09 L621.53,451.53 L623.57,451.96 L625.60,452.39 L627.63,452.82 L629.67,453.25 L631.70,453.67 L633.73,454.10 L635.77,454.53 L637.80,454.95 L639.83,455.38 L641.87,455.80 L643.90,456.23 L645.93,456.65 L647.97,457.08 L650.00,457.50 L652.03,457.92 L654.07,458.35 L656.10,458.77 L658.13,459.20 L660.17,459.62 L662.20,460.05 L664.23,460.47 L666.27,460.90 L668.30,461.32 L670.33,461.75 L672.37,462.18 L674.40,462.61 L676.43,463.04 L678.47,463.47 L680.50,463.90" fill="none" stroke="#00ff00" stroke-width="4.70" />
<path d="M70.50,94.70 L72.53,96.90 L74.57,99.11 L76.60,101.32 L78.63,103.54 L80.67,105.77 L82.70,107.99 L84.73,110.22 L86.77,112.45 L88.80,114.69 L90.83,116.92 L92.87,119.16 L94.90,121.40 L96.93,123.65 L98.97,125.89 L101.00,128.13 L103.03,130.38 L105.07,132.62 L107.10,134.86 L109.13,137.11 L111.17,139.35 L113.20,141.59 L115.23,143.83 L117.27,146.07 L119.30,148.31 L121.33,150.55 L123.37,152.78 L125.40,155.01 L127.43,157.24 L129.47,159.46 L131.50,161.69 L133.53,163.90 L135.57,166.12 L137.60,168.33 L139.63,170.54 L141.67,172.74 L143.70,174.94 L145.73,177.13 L147.77,179.32 L149.80,181.50 L151.83,183.68 L153.87,185.86 L155.90,188.02 L157.93,190.18 L159.97,192.34 L162.00,194.49 L164.03,196.63 L166.07,198.76 L168.10,200.89 L170.13,203.02 L172.17,205.13 L174.20,207.24 L176.23,209.34 L178.27,211.43 L180.30,213.52 L182.33,215.59 L184.37,217.66 L186.40,219.72 L188.43,221.78 L190.47,223.82 L192.50,225.86 L194.53,227.88 L196.57,229.90 L198.60,231.91 L200.63,233.91 L202.67,235.91 L204.70,237.89 L206.73,239.86 L208.77,241.83 L210.80,243.78 L212.83,245.73 L214.87,247.66 L216.90,249.59 L218.93,251.50 L220.97,253.41 L223.00,255.31 L225.03,257.19 L227.07,259.07 L229.10,260.94 L231.13,262.79 L233.17,264.64 L235.20,266.47 L237.23,268.30 L239.27,270.12 L241.30,271.92 L243.33,273.71 L245.37,275.50 L247.40,277.27 L249.43,279.03 L251.47,280.78 L253.50,282.53 L255.53,284.26 L257.57,285.97 L259.60,287.68 L261.63,289.38 L263.67,291.07 L265.70,292.75 L267.73,294.41 L269.77,296.07 L271.80,297.71 L273.83,299.34 L275.87,300.96 L277.90,302.58 L279.93,304.18 L281.97,305.76 L284.00,307.34 L286.03,308.91 L288.07,310.47 L290.10,312.01 L292.13,313.55 L294.17,315.07 L296.20,316.59 L298.23,318.09 L300.27,319.58 L302.30,321.06 L304.33,322.53 L306.37,323.99 L308.40,325.44 L310.43,326.88 L312.47,328.30 L314.50,329.72 L316.53,331.12 L318.57,332.52 L320.60,333.90 L322.63,335.28 L324.67,336.64 L326.70,337.99 L328.73,339.34 L330.77,340.67 L332.80,341.99 L334.83,343.30 L336.87,344.60 L338.90,345.89 L340.93,347.17 L342.97,348.44 L345.00,349.70 L347.03,350.95 L349.07,352.19 L351.10,353.42 L353.13,354.64 L355.17,355.85 L357.20,357.05 L359.23,358.24 L361.27,359.42 L363.30,360.59 L365.33,361.76 L367.37,362.91 L369.40,364.05 L371.43,365.18 L373.47,366.30 L375.50,367.42 L377.53,368.52 L379.57,369.62 L381.60,370.70 L383.63,371.78 L385.67,372.85 L387.70,373.90 L389.73,374.95 L391.77,375.99 L393.80,377.03 L395.83,378.05 L397.87,379.06 L399.90,380.07 L401.93,381.06 L403.97,382.05 L406.00,383.03 L408.03,384.00 L410.07,384.96 L412.10,385.92 L414.13,386.87 L416.17,387.80 L418.20,388.73 L420.23,389.65 L422.27,390.57 L424.30,391.47 L426.33,392.37 L428.37,393.26 L430.40,394.14 L432.43,395.02 L434.47,395.88 L436.50,396.74 L438.53,397.60 L440.57,398.44 L442.60,399.28 L444.63,400.11 L446.67,400.93 L448.70,401.74 L450.73,402.55 L452.77,403.35 L454.80,404.15 L456.83,404.94 L458.87,405.72 L460.90,406.49 L462.93,407.26 L464.97,408.02 L467.00,408.77 L469.03,409.52 L471.07,410.26 L473.10,410.99 L475.13,411.72 L477.17,412.44 L479.20,413.16 L481.23,413.87 L483.27,414.57 L485.30,415.27 L487.33,415.96 L489.37,416.65 L491.40,417.33 L493.43,418.00 L495.47,418.67 L497.50,419.33 L499.53,419.99 L501.57,420.64 L503.60,421.29 L505.63,421.93 L507.67,422.56 L509.70,423.19 L511.73,423.82 L513.77,424.44 L515.80,425.06 L517.83,425.67 L519.87,426.27 L521.90,426.87 L523.93,427.47 L525.97,428.06 L528.00,428.65 L530.03,429.23 L532.07,429.81 L534.10,430.38 L536.13,430.95 L538.17,431.51 L540.20,432.07 L542.23,432.63 L544.27,433.18 L546.30,433.73 L548.33,434.27 L550.37,434.81 L552.40,435.35 L554.43,435.88 L556.47,436.41 L558.50,436.93 L560.53,437.45 L562.57,437.97 L564.60,438.48 L566.63,438.99 L568.67,439.50 L570.70,440.00 L572.73,440.50 L574.77,441.00 L576.80,441.49 L578.83,441.98 L580.87,442.47 L582.90,442.95 L584.93,443.44 L586.97,443.91 L589.00,444.39 L591.03,444.86 L593.07,445.33 L595.10,445.80 L597.13,446.27 L599.17,446.73 L601.20,447.19 L603.23,447.65 L605.27,448.10 L607.30,448.56 L609.33,449.01 L611.37,449.46 L613.40,449.91 L615.43,450.35 L617.47,450.79 L619.50,451.24 L621.53,451.67 L623.57,452.11 L625.60,452.55 L627.63,452.98 L629.67,453.41 L631.70,453.85 L633.73,454.28 L635.77,454.70 L637.80,455.13 L639.83,455.56 L641.87,455.98 L643.90,456.40 L645.93,456.83 L647.97,457.25 L650.00,457.67 L652.03,458.09 L654.07,458.51 L656.10,458.92 L658.13,459.34 L660.17,459.76 L662.20,460.17 L664.23,460.59 L666.27,461.00 L668.30,461.42 L670.33,461.83 L672.37,462.25 L674.40,462.66 L676.43,463.07 L678.47,463.49 L680.50,463.90" fill="none" stroke="#ff0000" stroke-width="4.70" stroke-dasharray="16.7 16.4" stroke-dashoffset="1.3"/>
<path d="M70.50,53.04 L72.53,55.26 L74.57,57.48 L76.60,59.71 L78.63,61.95 L80.67,64.19 L82.70,66.44 L84.73,68.70 L86.77,70.96 L88.80,73.22 L90.83,75.49 L92.87,77.77 L94.90,80.05 L96.93,82.33 L98.97,84.62 L101.00,86.91 L103.03,89.21 L105.07,91.50 L107.10,93.80 L109.13,96.10 L111.17,98.40 L113.20,100.71 L115.23,103.01 L117.27,105.32 L119.30,107.63 L121.33,109.93 L123.37,112.24 L125.40,114.55 L127.43,116.86 L129.47,119.16 L131.50,121.47 L133.53,123.77 L135.57,126.08 L137.60,128.38 L139.63,130.68 L141.67,132.97 L143.70,135.27 L145.73,137.56 L147.77,139.85 L149.80,142.14 L151.83,144.42 L153.87,146.70 L155.90,148.98 L157.93,151.25 L159.97,153.52 L162.00,155.78 L164.03,158.04 L166.07,160.29 L168.10,162.54 L170.13,164.79 L172.17,167.02 L174.20,169.26 L176.23,171.49 L178.27,173.71 L180.30,175.92 L182.33,178.13 L184.37,180.34 L186.40,182.53 L188.43,184.72 L190.47,186.91 L192.50,189.08 L194.53,191.25 L196.57,193.41 L198.60,195.57 L200.63,197.72 L202.67,199.86 L204.70,201.99 L206.73,204.11 L208.77,206.23 L210.80,208.34 L212.83,210.43 L214.87,212.53 L216.90,214.61 L218.93,216.68 L220.97,218.75 L223.00,220.80 L225.03,222.85 L227.07,224.89 L229.10,226.92 L231.13,228.94 L233.17,230.95 L235.20,232.95 L237.23,234.95 L239.27,236.93 L241.30,238.90 L243.33,240.86 L245.37,242.82 L247.40,244.76 L249.43,246.70 L251.47,248.62 L253.50,250.54 L255.53,252.44 L257.57,254.33 L259.60,256.22 L261.63,258.09 L263.67,259.96 L265.70,261.81 L267.73,263.65 L269.77,265.49 L271.80,267.31 L273.83,269.12 L275.87,270.92 L277.90,272.71 L279.93,274.49 L281.97,276.27 L284.00,278.02 L286.03,279.77 L288.07,281.51 L290.10,283.24 L292.13,284.96 L294.17,286.67 L296.20,288.36 L298.23,290.05 L300.27,291.72 L302.30,293.39 L304.33,295.04 L306.37,296.68 L308.40,298.32 L310.43,299.94 L312.47,301.55 L314.50,303.15 L316.53,304.74 L318.57,306.32 L320.60,307.89 L322.63,309.45 L324.67,310.99 L326.70,312.53 L328.73,314.06 L330.77,315.57 L332.80,317.08 L334.83,318.57 L336.87,320.06 L338.90,321.53 L340.93,323.00 L342.97,324.45 L345.00,325.89 L347.03,327.33 L349.07,328.75 L351.10,330.16 L353.13,331.56 L355.17,332.95 L357.20,334.34 L359.23,335.71 L361.27,337.07 L363.30,338.42 L365.33,339.76 L367.37,341.10 L369.40,342.42 L371.43,343.73 L373.47,345.03 L375.50,346.32 L377.53,347.61 L379.57,348.88 L381.60,350.14 L383.63,351.40 L385.67,352.64 L387.70,353.88 L389.73,355.10 L391.77,356.32 L393.80,357.52 L395.83,358.72 L397.87,359.91 L399.90,361.09 L401.93,362.26 L403.97,363.42 L406.00,364.57 L408.03,365.71 L410.07,366.85 L412.10,367.97 L414.13,369.09 L416.17,370.19 L418.20,371.29 L420.23,372.38 L422.27,373.46 L424.30,374.54 L426.33,375.60 L428.37,376.66 L430.40,377.71 L432.43,378.75 L434.47,379.78 L436.50,380.80 L438.53,381.82 L440.57,382.82 L442.60,383.82 L444.63,384.82 L446.67,385.80 L448.70,386.77 L450.73,387.74 L452.77,388.70 L454.80,389.66 L456.83,390.60 L458.87,391.54 L460.90,392.47 L462.93,393.39 L464.97,394.31 L467.00,395.22 L469.03,396.12 L471.07,397.02 L473.10,397.90 L475.13,398.78 L477.17,399.66 L479.20,400.53 L481.23,401.39 L483.27,402.24 L485.30,403.09 L487.33,403.93 L489.37,404.76 L491.40,405.59 L493.43,406.41 L495.47,407.23 L497.50,408.04 L499.53,408.84 L501.57,409.64 L503.60,410.43 L505.63,411.21 L507.67,411.99 L509.70,412.76 L511.73,413.53 L513.77,414.29 L515.80,415.05 L517.83,415.80 L519.87,416.55 L521.90,417.29 L523.93,418.02 L525.97,418.75 L528.00,419.47 L530.03,420.19 L532.07,420.91 L534.10,421.62 L536.13,422.32 L538.17,423.02 L540.20,423.71 L542.23,424.40 L544.27,425.09 L546.30,425.77 L548.33,426.45 L550.37,427.12 L552.40,427.78 L554.43,428.45 L556.47,429.10 L558.50,429.76 L560.53,430.41 L562.57,431.06 L564.60,431.70 L566.63,432.34 L568.67,432.97 L570.70,433.60 L572.73,434.23 L574.77,434.85 L576.80,435.47 L578.83,436.09 L580.87,436.70 L582.90,437.31 L584.93,437.91 L586.97,438.52 L589.00,439.11 L591.03,439.71 L593.07,440.30 L595.10,440.89 L597.13,441.48 L599.17,442.07 L601.20,442.65 L603.23,443.23 L605.27,443.80 L607.30,444.38 L609.33,444.95 L611.37,445.52 L613.40,446.08 L615.43,446.65 L617.47,447.21 L619.50,447.77 L621.53,448.33 L623.57,448.88 L625.60,449.43 L627.63,449.99 L629.67,450.54 L631.70,451.08 L633.73,451.63 L635.77,452.17 L637.80,452.72 L639.83,453.26 L641.87,453.80 L643.90,454.34 L645.93,454.88 L647.97,455.41 L650.00,455.95 L652.03,456.48 L654.07,457.02 L656.10,457.55 L658.13,458.08 L660.17,458.61 L662.20,459.14 L664.23,459.67 L666.27,460.20 L668.30,460.73 L670.33,461.26 L672.37,461.79 L674.40,462.32 L676.43,462.84 L678.47,463.37 L680.50,463.90" fill="none" stroke="#0000ff" stroke-width="4.70" stroke-dasharray="4.5 3.78"/></g>
<g><path d="M188.6,399.3 L316.6,273.1" stroke="#ff00ff" stroke-width="4.1" fill="none"/><path d="M325,264.8 L306.8,272.7 L315.8,274.5 L317,282.9 Z" fill="#ff00ff"/></g>
<text transform="translate(62.80,471.00) scale(1.100,1)" text-anchor="end" font-size="18.10" font-family="Liberation Sans, sans-serif" fill="#0d0d0d" stroke="#0d0d0d" stroke-width="0.25">0</text>
<text transform="translate(64.40,394.77) scale(1.100,1)" text-anchor="end" font-size="18.10" font-family="Liberation Sans, sans-serif" fill="#0d0d0d" stroke="#0d0d0d" stroke-width="0.25">0.05</text>
<text transform="translate(63.20,318.53) scale(1.100,1)" text-anchor="end" font-size="18.10" font-family="Liberation Sans, sans-serif" fill="#0d0d0d" stroke="#0d0d0d" stroke-width="0.25">0.1</text>
<text transform="translate(64.40,242.30) scale(1.100,1)" text-anchor="end" font-size="18.10" font-family="Liberation Sans, sans-serif" fill="#0d0d0d" stroke="#0d0d0d" stroke-width="0.25">0.15</text>
<text transform="translate(63.50,166.07) scale(1.100,1)" text-anchor="end" font-size="18.10" font-family="Liberation Sans, sans-serif" fill="#0d0d0d" stroke="#0d0d0d" stroke-width="0.25">0.2</text>
<text transform="translate(64.50,89.83) scale(1.100,1)" text-anchor="end" font-size="18.10" font-family="Liberation Sans, sans-serif" fill="#0d0d0d" stroke="#0d0d0d" stroke-width="0.25">0.25</text>
<text transform="translate(62.80,13.60) scale(1.100,1)" text-anchor="end" font-size="18.10" font-family="Liberation Sans, sans-serif" fill="#0d0d0d" stroke="#0d0d0d" stroke-width="0.25">0.3</text>
<text transform="translate(70.50,489.9) scale(1.100,1)" text-anchor="middle" font-size="18.10" font-family="Liberation Sans, sans-serif" fill="#0d0d0d" stroke="#0d0d0d" stroke-width="0.25">0</text>
<text transform="translate(172.17,489.9) scale(1.100,1)" text-anchor="middle" font-size="18.10" font-family="Liberation Sans, sans-serif" fill="#0d0d0d" stroke="#0d0d0d" stroke-width="0.25">0.5</text>
<text transform="translate(273.83,489.9) scale(1.100,1)" text-anchor="middle" font-size="18.10" font-family="Liberation Sans, sans-serif" fill="#0d0d0d" stroke="#0d0d0d" stroke-width="0.25">1</text>
<text transform="translate(375.50,489.9) scale(1.100,1)" text-anchor="middle" font-size="18.10" font-family="Liberation Sans, sans-serif" fill="#0d0d0d" stroke="#0d0d0d" stroke-width="0.25">1.5</text>
<text transform="translate(477.17,489.9) scale(1.100,1)" text-anchor="middle" font-size="18.10" font-family="Liberation Sans, sans-serif" fill="#0d0d0d" stroke="#0d0d0d" stroke-width="0.25">2</text>
<text transform="translate(578.83,489.9) scale(1.100,1)" text-anchor="middle" font-size="18.10" font-family="Liberation Sans, sans-serif" fill="#0d0d0d" stroke="#0d0d0d" stroke-width="0.25">2.5</text>
<text transform="translate(680.50,489.9) scale(1.100,1)" text-anchor="middle" font-size="18.10" font-family="Liberation Sans, sans-serif" fill="#0d0d0d" stroke="#0d0d0d" stroke-width="0.25">3</text>
<text transform="translate(374.6,515.6) scale(1.100,1)" text-anchor="middle" font-size="20" font-style="italic" font-family="Liberation Serif, serif" fill="#0d0d0d">ζ</text>
<text transform="translate(16.3,232.3) scale(1.08,1) rotate(-90)" text-anchor="middle" font-size="19.5" font-family="Liberation Sans, sans-serif" fill="#0d0d0d"><tspan font-style="italic" font-size="20.5" font-family="Liberation Serif, serif">θ</tspan>(<tspan font-style="italic" font-size="21.5" dx="0.3" font-family="Liberation Serif, serif">ζ</tspan><tspan dx="0.6">)</tspan></text>
<text transform="translate(365.5,31.50) scale(1.093,1)" font-size="20.50" font-family="Liberation Serif, serif" style="font-kerning:none" fill="#000">Green</text>
<text transform="translate(437.70,31.50) scale(1.093,1)" font-size="20.50" font-family="Liberation Serif, serif" style="font-kerning:none" fill="#000">Ternary hybrid nanofluid</text>
<text transform="translate(365.5,56.80) scale(1.093,1)" font-size="20.50" font-family="Liberation Serif, serif" style="font-kerning:none" fill="#000">Red</text>
<text transform="translate(436.00,56.80) scale(1.093,1)" font-size="20.50" font-family="Liberation Serif, serif" style="font-kerning:none" fill="#000">Hybrid nanofluid</text>
<text transform="translate(365.5,82.10) scale(1.093,1)" font-size="20.50" font-family="Liberation Serif, serif" style="font-kerning:none" fill="#000">Blue</text>
<text transform="translate(436.50,82.10) scale(1.093,1)" font-size="20.50" font-family="Liberation Serif, serif" style="font-kerning:none" fill="#000">Nanofluid</text>
<text transform="translate(286.1,245.3) scale(1.070,1)" font-size="18.5" font-family="Liberation Serif, serif" fill="#000">Γ</text>
<text transform="translate(297.3,252.8) scale(1.070,1)" font-size="15" font-family="Liberation Sans, sans-serif" fill="#000">t</text>
<text transform="translate(308.2,245.3) scale(1.070,1)" font-size="17.3" font-family="Liberation Sans, sans-serif" fill="#000">= 0.1, 0.3, 0.5</text>
</svg>
</body></html>
